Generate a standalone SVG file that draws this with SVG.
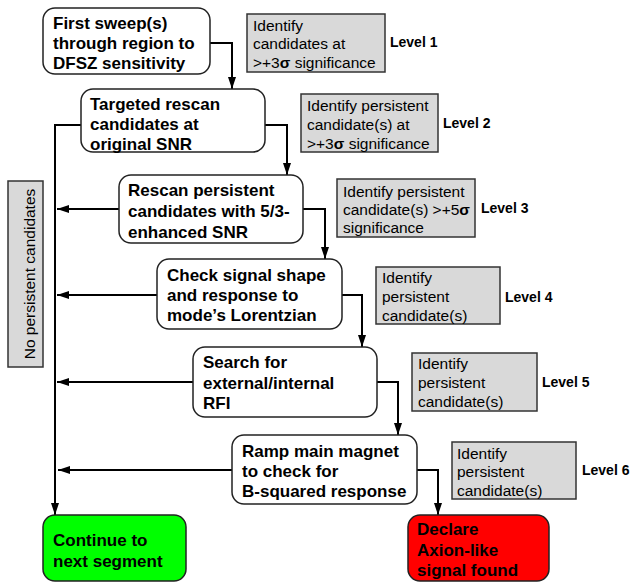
<svg xmlns="http://www.w3.org/2000/svg" width="631" height="582" viewBox="0 0 631 582">
<defs>
<marker id="arr" markerUnits="userSpaceOnUse" markerWidth="12" markerHeight="8" refX="12" refY="4" orient="auto">
<path d="M0,0 L12,4 L0,8 z" fill="#000"/>
</marker>
<style>
.box{fill:#fff;stroke:#222;stroke-width:1.5}
.gray{fill:#d9d9d9;stroke:#333;stroke-width:1.5}
.bt{font-family:"Liberation Sans",Arial,sans-serif;font-weight:bold;font-size:17px;fill:#000}
.gt{font-family:"Liberation Sans",Arial,sans-serif;font-size:15.5px;fill:#000}
.lv{font-family:"Liberation Sans",Arial,sans-serif;font-weight:bold;font-size:14px;fill:#000}
.c{fill:none;stroke:#000;stroke-width:2}
</style>
</defs>
<rect width="631" height="582" fill="#fff"/>
<g id="connectors">
<path class="c" d="M210,43 H232 V89" marker-end="url(#arr)"/>
<path class="c" d="M265,125 H287 V175" marker-end="url(#arr)"/>
<path class="c" d="M303,209 H325 V259" marker-end="url(#arr)"/>
<path class="c" d="M342,295 H362 V347" marker-end="url(#arr)"/>
<path class="c" d="M377,382 H398 V435" marker-end="url(#arr)"/>
<path class="c" d="M417,470 H438 V515" marker-end="url(#arr)"/>
<path class="c" d="M81,125 H55 V515" marker-end="url(#arr)"/>
<path class="c" d="M119,209 H57" marker-end="url(#arr)"/>
<path class="c" d="M157,295 H57" marker-end="url(#arr)"/>
<path class="c" d="M193,382 H57" marker-end="url(#arr)"/>
<path class="c" d="M232,470 H58" marker-end="url(#arr)"/>
</g>
<g id="step1">
<rect class="box" x="43" y="8" width="167" height="66" rx="12"/>
<text class="bt" x="53" y="29">First sweep(s)</text>
<text class="bt" x="53" y="49">through region to</text>
<text class="bt" x="53" y="69">DFSZ sensitivity</text>
</g>
<g id="step2">
<rect class="box" x="81" y="89" width="184" height="63" rx="12"/>
<text class="bt" x="90" y="110">Targeted rescan</text>
<text class="bt" x="90" y="130">candidates at</text>
<text class="bt" x="90" y="150">original SNR</text>
</g>
<g id="step3">
<rect class="box" x="119" y="175" width="184" height="68" rx="12"/>
<text class="bt" x="128" y="196">Rescan persistent</text>
<text class="bt" x="128" y="217">candidates with 5/3-</text>
<text class="bt" x="128" y="238">enhanced SNR</text>
</g>
<g id="step4">
<rect class="box" x="157" y="259" width="185" height="70" rx="12"/>
<text class="bt" x="167" y="281">Check signal shape</text>
<text class="bt" x="167" y="301">and response to</text>
<text class="bt" x="167" y="321">mode’s Lorentzian</text>
</g>
<g id="step5">
<rect class="box" x="193" y="347" width="184" height="70" rx="12"/>
<text class="bt" x="203" y="368">Search for</text>
<text class="bt" x="203" y="389">external/internal</text>
<text class="bt" x="203" y="409">RFI</text>
</g>
<g id="step6">
<rect class="box" x="232" y="435" width="185" height="69" rx="12"/>
<text class="bt" x="242" y="457">Ramp main magnet</text>
<text class="bt" x="242" y="477">to check for</text>
<text class="bt" x="242" y="497">B-squared response</text>
</g>
<g id="continue">
<rect x="43" y="515" width="143" height="66" rx="12" fill="#00ff00" stroke="#222" stroke-width="1.5"/>
<text class="bt" x="53" y="546">Continue to</text>
<text class="bt" x="53" y="567">next segment</text>
</g>
<g id="declare">
<rect x="408" y="515" width="141" height="66" rx="12" fill="#ff0000" stroke="#222" stroke-width="1.5"/>
<text class="bt" x="417" y="535">Declare</text>
<text class="bt" x="417" y="556">Axion-like</text>
<text class="bt" x="417" y="576">signal found</text>
</g>
<g id="level1">
<rect class="gray" x="247" y="14" width="138" height="58"/>
<text class="gt" x="253" y="30.5">Identify</text>
<text class="gt" x="253" y="49">candidates at</text>
<text class="gt" x="253" y="67.5">&gt;+3<tspan font-weight="bold">σ</tspan> significance</text>
<text class="lv" x="390" y="47">Level 1</text>
</g>
<g id="level2">
<rect class="gray" x="301" y="94" width="137" height="58"/>
<text class="gt" x="307" y="110.5">Identify persistent</text>
<text class="gt" x="307" y="129.5">candidate(s) at</text>
<text class="gt" x="307" y="148.5">&gt;+3<tspan font-weight="bold">σ</tspan> significance</text>
<text class="lv" x="443" y="128">Level 2</text>
</g>
<g id="level3">
<rect class="gray" x="337" y="179" width="138" height="58"/>
<text class="gt" x="343" y="196.5">Identify persistent</text>
<text class="gt" x="343" y="214.5">candidate(s) &gt;+5<tspan font-weight="bold">σ</tspan></text>
<text class="gt" x="343" y="232.5">significance</text>
<text class="lv" x="481" y="213">Level 3</text>
</g>
<g id="level4">
<rect class="gray" x="376" y="267" width="124" height="57"/>
<text class="gt" x="382" y="282.5">Identify</text>
<text class="gt" x="382" y="302">persistent</text>
<text class="gt" x="382" y="321">candidate(s)</text>
<text class="lv" x="505" y="302">Level 4</text>
</g>
<g id="level5">
<rect class="gray" x="412" y="353" width="125" height="58"/>
<text class="gt" x="418" y="368.5">Identify</text>
<text class="gt" x="418" y="387.5">persistent</text>
<text class="gt" x="418" y="407">candidate(s)</text>
<text class="lv" x="542" y="387">Level 5</text>
</g>
<g id="level6">
<rect class="gray" x="452" y="442" width="124" height="57"/>
<text class="gt" x="457" y="458.5">Identify</text>
<text class="gt" x="457" y="476.5">persistent</text>
<text class="gt" x="457" y="495.5">candidate(s)</text>
<text class="lv" x="582" y="475">Level 6</text>
</g>
<g id="no-persistent">
<rect class="gray" x="8" y="181" width="35" height="186"/>
<text class="gt" font-size="16px" transform="translate(34.5,274) rotate(-90)" text-anchor="middle">No persistent candidates</text>
</g>
</svg>
